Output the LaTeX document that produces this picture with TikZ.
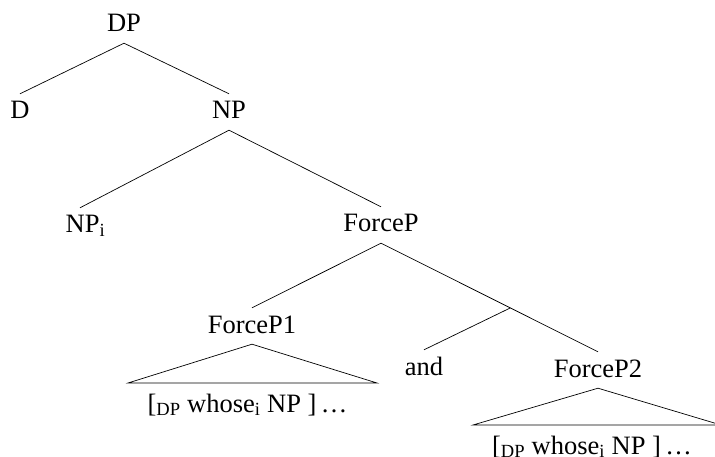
\documentclass[tikz,border=0pt]{standalone}
\usepackage{fontspec}
\setmainfont{Liberation Serif}
\usetikzlibrary{calc}
\begin{document}
\begin{tikzpicture}[x=1pt,y=-1pt,
  lab/.style={font=\fontsize{26.5}{32}\selectfont, anchor=base, text height=19pt, text depth=5pt, inner sep=6pt},
  txt/.style={font=\fontsize{26.5}{32}\selectfont, anchor=base, inner sep=0pt},
  edge/.style={line width=0.7pt, black}]
\useasboundingbox (0,0) rectangle (715,457);
\node[lab] (DP) at (124,32) {DP};
\node[lab] (D) at (20,119) {D};
\node[lab] (NP) at (229,119) {NP};
\node[lab] (NPi) at (85.5,233) {NP\textsubscript{i}};
\node[lab] (FP) at (381,232) {ForceP};
\node[lab] (FP1) at (252,333) {ForceP1};
\node[lab] (and) at (424,375) {and};
\node[lab] (FP2) at (598,377) {ForceP2};
\node[txt] (s1) at (247.5,412) {[\textsubscript{DP} whose\textsubscript{i} NP ]\,\ldots};
\node[txt] (s2) at (592,454) {[\textsubscript{DP} whose\textsubscript{i} NP ]\,\ldots};
\coordinate (t1l) at (128,383);
\coordinate (t1r) at (377,383);
\coordinate (t2l) at (473,425);
\coordinate (t2r) at (721,425);
\draw[edge] (DP.south) -- (D.north);
\draw[edge] (DP.south) -- (NP.north);
\draw[edge] (NP.south) -- ([xshift=-5.5pt]NPi.north);
\draw[edge] (NP.south) -- (FP.north);
\draw[edge] (FP.south) -- (FP1.north);
\draw[edge] (FP.south) -- (FP2.north);
\coordinate (br) at ($(FP.south)!0.596!(FP2.north)$);
\draw[edge] (br) -- (and.north);
\draw[edge] (FP1.south) -- (t1l) -- (t1r) -- cycle;
\draw[edge] (FP2.south) -- (t2l) -- (t2r) -- cycle;
\end{tikzpicture}
\end{document}
